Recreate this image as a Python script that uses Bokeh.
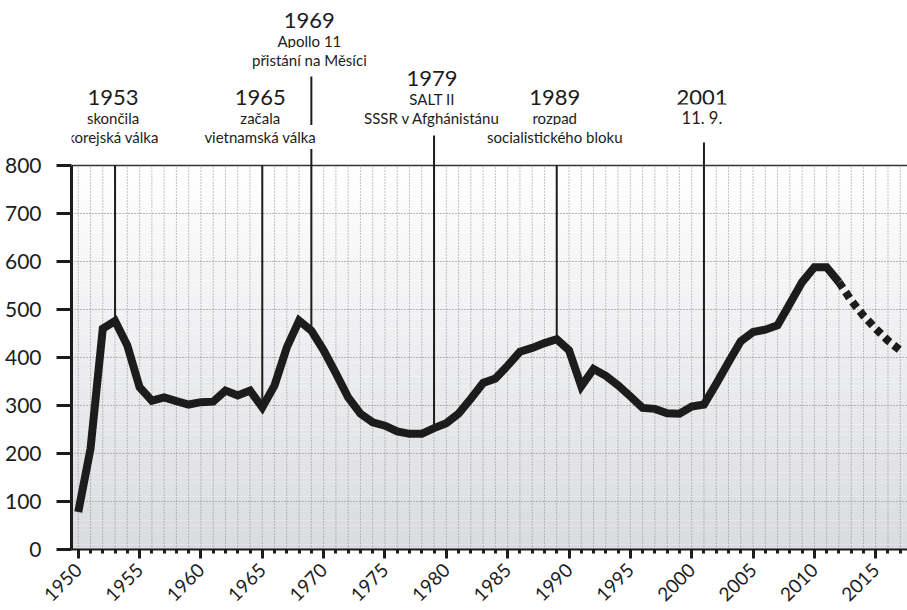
import numpy as np
from bokeh.plotting import figure
from bokeh.models import Label, FixedTicker, Range1d
from bokeh.embed import file_html
from bokeh.resources import INLINE

# ---- data ----
years = list(range(1950, 2018))
values = [78, 210, 460, 476, 425, 338, 310, 317, 309, 302,
          307, 308, 331, 321, 331, 296, 342, 421, 477, 456,
          415, 367, 317, 283, 265, 258, 246, 241, 241, 253,
          263, 283, 314, 347, 356, 383, 412, 420, 430, 438,
          415, 340, 376, 362, 342, 319, 295, 293, 284, 283,
          298, 302, 345, 390, 434, 453, 458, 467, 512, 557,
          588, 588, 557, 519, 487, 460, 435, 415]
forecast_from = 2012

event_years = [1953, 1965, 1969, 1979, 1989, 2001]
event_titles = ["1953", "1965", "1969", "1979", "1989", "2001"]
event_line1 = ["skončila", "začala", "Apollo 11", "SALT II", "rozpad", "11. 9."]
event_line2 = ["korejská válka", "vietnamská válka", "přistání na Měsíci",
               "SSSR v Afghánistánu", "socialistického bloku", ""]

x_major = list(range(1950, 2016, 5))
y_ticks = list(range(0, 801, 100))

# ---- layout constants ----
FONT = "Lato"
INK = "#1c1c1c"
X0, X1 = 1949.45, 2017.59
FRAME_BOTTOM = 549.0
PX = 0.48  # px per unit
Y_TOP = FRAME_BOTTOM / PX
LABEL_SHIFT = 7  # px correction for label box placement

def img_y_to_val(img_y):
    return (FRAME_BOTTOM - img_y) / PX

title_base_img = [104, 104, 27, 85, 104, 104]
line_top_img = [165, 165, 76, 135, 165, 142]
line1_sizes = ["15px", "15px", "15px", "15px", "15px", "16.5px"]

p = figure(width=907, height=610, output_backend="svg", toolbar_location=None,
           x_range=Range1d(X0, X1), y_range=Range1d(0, Y_TOP),
           min_border_left=71, min_border_right=0, min_border_top=0, min_border_bottom=61)
p.outline_line_color = None
p.background_fill_color = "white"
p.border_fill_color = "white"
p.xgrid.visible = False
p.ygrid.visible = False

# gradient background inside 0..800
edges = np.linspace(0, 800, 81)
top_c = np.array([255, 255, 255])
bot_c = np.array([218, 219, 223])
cols = []
for i in range(80):
    t = (edges[i] + edges[i + 1]) / 2 / 800.0
    c = bot_c + (top_c - bot_c) * t
    cols.append("#%02x%02x%02x" % tuple(int(round(v)) for v in c))
p.quad(left=X0, right=X1, bottom=edges[:-1], top=edges[1:], fill_color=cols,
       line_color=None)

# dotted grid
p.segment(x0=years, y0=0, x1=years, y1=800, line_color="#8a8a8a",
          line_width=1, line_dash="1 2")
p.segment(x0=X0, y0=y_ticks[1:-1], x1=X1, y1=y_ticks[1:-1], line_color="#777777",
          line_width=1, line_dash="1 2")
# top border
p.segment(x0=X0, y0=800, x1=X1, y1=800, line_color="#333333", line_width=1.5)

# event lines
ev_vals = [values[years.index(y)] for y in event_years]
ev_tops = [img_y_to_val(v) for v in line_top_img]
p.segment(x0=event_years, y0=ev_vals, x1=event_years, y1=ev_tops,
          line_color=INK, line_width=2)

# data line
k = years.index(forecast_from)
p.line(years[:k + 1], values[:k + 1], line_color=INK, line_width=8,
       line_join="miter", line_cap="butt")
p.line(years[k:], values[k:], line_color=INK, line_width=8,
       line_dash="7 5", line_cap="butt")

# labels
for yr, t, l1, l2, base, s1 in zip(event_years, event_titles, event_line1,
                                    event_line2, title_base_img, line1_sizes):
    rows = [(t, "22px", base), (l1, s1, base + 20), (l2, "15px", base + 39.5)]
    for txt, fs, by in rows:
        if not txt:
            continue
        p.add_layout(Label(x=yr, y=img_y_to_val(by - LABEL_SHIFT), text=txt, text_font=FONT,
                           text_font_size=fs, text_color=INK, text_align="center",
                           text_baseline="alphabetic", x_offset=-2,
                           background_fill_color="white", padding=3))

# axes
xa = p.xaxis[0]
xa.ticker = FixedTicker(ticks=x_major, minor_ticks=years)
xa.axis_line_color = INK
xa.axis_line_width = 2
xa.major_tick_line_color = INK
xa.major_tick_line_width = 3
xa.major_tick_out = 9
xa.major_tick_in = 0
xa.minor_tick_line_color = INK
xa.minor_tick_line_width = 3
xa.minor_tick_out = 4
xa.minor_tick_in = 0
xa.major_label_orientation = np.pi / 4
xa.major_label_text_font = FONT
xa.major_label_text_font_size = "19px"
xa.major_label_text_color = INK
xa.major_label_standoff = 8

ya = p.yaxis[0]
ya.ticker = FixedTicker(ticks=y_ticks, minor_ticks=[])
ya.bounds = (0, 800)
ya.axis_line_color = INK
ya.axis_line_width = 3
ya.major_tick_line_color = INK
ya.major_tick_line_width = 3
ya.major_tick_out = 15
ya.major_tick_in = 0
ya.minor_tick_line_color = None
ya.major_label_text_font = FONT
ya.major_label_text_font_size = "21px"
ya.major_label_text_color = INK
ya.major_label_standoff = 15

open("out.html", "w").write(file_html(p, INLINE))
